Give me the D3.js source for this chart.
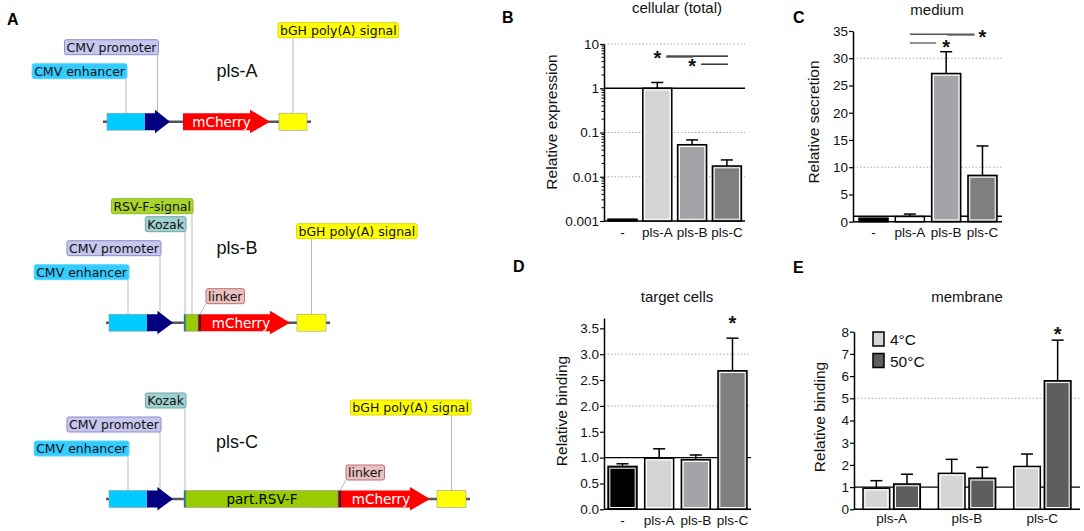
<!DOCTYPE html>
<html><head><meta charset="utf-8">
<script src="https://cdn.jsdelivr.net/npm/d3@7"></script>
<style>body{margin:0;background:#fff}svg{display:block}</style>
</head><body><svg id="c" width="1084" height="531"></svg>
<script>
// ---------------- DATA ----------------
const categories = ["-", "pls-A", "pls-B", "pls-C"];
// B: cellular (total) — relative expression (log)
const cellularValues = [0.0011, 1.0, 0.053, 0.0175];
const cellularErrors = [0.00006, 0.35, 0.015, 0.0065];
const cellularTicks = [0.001, 0.01, 0.1, 1, 10];
const cellularTickLabels = ["0.001", "0.01", "0.1", "1", "10"];
// C: medium — relative secretion
const mediumValues = [0.65, 0.95, 27.2, 8.5];
const mediumErrors = [0, 0.45, 4.0, 5.4];
const mediumTicks = [0, 5, 10, 15, 20, 25, 30, 35];
// D: target cells — relative binding
const targetValues = [0.83, 0.99, 0.96, 2.68];
const targetErrors = [0.05, 0.18, 0.09, 0.63];
const targetTicks = [0, 0.5, 1, 1.5, 2, 2.5, 3, 3.5];
// E: membrane — relative binding, two temperatures
const membraneGroups = ["pls-A", "pls-B", "pls-C"];
const membraneSeries = ["4°C", "50°C"];
const membrane4C = [0.95, 1.62, 1.93];
const membrane4CErr = [0.34, 0.63, 0.56];
const membrane50C = [1.14, 1.40, 5.79];
const membrane50CErr = [0.44, 0.49, 1.83];
const membraneTicks = [0, 1, 2, 3, 4, 5, 6, 7, 8];
// A: plasmid constructs (positions in arbitrary map units)
const constructNames = ["pls-A", "pls-B", "pls-C"];
const backbones = [[3, 211], [6, 230], [6, 370]];
const plsAFeatures = [["CMV enhancer", 7, 45], ["CMV promoter", 45, 70], ["mCherry", 83, 170], ["bGH poly(A) signal", 179, 207]];
const plsBFeatures = [["CMV enhancer", 9, 47], ["CMV promoter", 47, 73], ["Kozak", 84, 86], ["RSV-F-signal", 86, 98], ["linker", 98, 102], ["mCherry", 102, 190], ["bGH poly(A) signal", 197, 226]];
const plsCFeatures = [["CMV enhancer", 9, 47], ["CMV promoter", 47, 73], ["Kozak", 84, 86], ["part.RSV-F", 86, 238], ["linker", 238, 242], ["mCherry", 242, 330], ["bGH poly(A) signal", 337, 366]];

// ---------------- STYLE / LAYOUT ----------------
const svg = d3.select("#c");
const FONT = "'Liberation Sans', Arial, sans-serif";
const MAPFONT = "'DejaVu Sans', Verdana, sans-serif";

const featStyle = {
  "CMV enhancer": {fill: "#00ccff", shape: "box", lab: "#33ccff", labStroke: "#5cd6ff", level: -58, align: "end"},
  "CMV promoter": {fill: "#000080", shape: "arrow", lab: "#c6c6ee", labStroke: "#8c8cc8", level: -82, align: "end"},
  "Kozak": {fill: "#006a6a", shape: "box", lab: "#9fcfcf", labStroke: "#6fa8a8", level: -106, align: "end"},
  "RSV-F-signal": {fill: "#99cc00", shape: "box", lab: "#a8d42c", labStroke: "#8cb820", level: -124, align: "end"},
  "linker": {fill: "#8b0000", shape: "box", lab: "#ebc0c0", labStroke: "#b87272", level: -34, align: "linker"},
  "mCherry": {fill: "#ff0000", shape: "arrow", inline: "#ffffff"},
  "part.RSV-F": {fill: "#99cc00", shape: "box", inline: "#000000"},
  "bGH poly(A) signal": {fill: "#ffff00", shape: "box", lab: "#ffff00", labStroke: "#d8d800", level: -99, align: "start"}
};
const constructLayout = [{y: 121.7, titleDy: -45}, {y: 322.7, titleDy: -69}, {y: 499, titleDy: -51}];
const allFeatures = [plsAFeatures, plsBFeatures, plsCFeatures];
const LABEL_MAX_X = 471;

const mapX = d3.scaleLinear().domain([0, 400]).range([100, 500]);

// panel letters
[["A", 7, 25], ["B", 502, 23], ["C", 793, 23], ["D", 513, 272], ["E", 793, 273]].forEach(([t, x, y]) =>
  svg.append("text").attr("x", x).attr("y", y).attr("font-family", FONT).attr("font-weight", "bold")
    .attr("font-size", 16).text(t));

// ---------------- PANEL A ----------------
allFeatures.forEach((feats, ci) => {
  const L = constructLayout[ci];
  const g = svg.append("g");
  const by = L.y;
  g.append("line").attr("x1", mapX(backbones[ci][0])).attr("x2", mapX(backbones[ci][1]))
    .attr("y1", by).attr("y2", by).attr("stroke", "#555").attr("stroke-width", 2.5);
  g.append("text").attr("x", 237).attr("y", by + L.titleDy).attr("text-anchor", "middle")
    .attr("font-family", FONT).attr("font-size", 18).attr("fill", "#111").text(constructNames[ci]);

  const labels = g.append("g");
  const blocks = g.append("g");
  feats.forEach(([name, s, e]) => {
    const st = featStyle[name];
    const x0 = mapX(s), x1 = mapX(e);
    if (st.shape === "arrow") {
      const head = Math.min(20, (x1 - x0) * 0.6);
      const pts = [[x0, by - 8.5], [x1 - head, by - 8.5], [x1 - head, by - 12], [x1, by], [x1 - head, by + 11.5],
        [x1 - head, by + 8.5], [x0, by + 8.5]];
      blocks.append("path").attr("d", d3.line()(pts) + "Z").attr("fill", st.fill);
    } else {
      blocks.append("rect").attr("x", x0).attr("y", by - 8.5).attr("width", x1 - x0).attr("height", 17)
        .attr("fill", st.fill).attr("stroke", "#999").attr("stroke-width", 0.6);
    }
    if (st.inline) {
      const cx = st.shape === "arrow" ? (x0 + x1) / 2 - 5 : (x0 + x1) / 2;
      blocks.append("text").attr("x", cx).attr("y", by + 5).attr("text-anchor", "middle")
        .attr("font-family", MAPFONT).attr("font-size", 13.5).attr("fill", st.inline).text(name);
    }
    if (st.lab) {
      const mid = (x0 + x1) / 2;
      const top = by + st.level, h = 15;
      const t = labels.append("text").attr("y", top + 12).attr("font-family", MAPFONT).attr("font-size", 12.5)
        .attr("fill", "#111").text(name);
      const w = t.node().getComputedTextLength() + 4;
      let bx;
      if (st.align === "end") bx = mid + 1 - w;
      else if (st.align === "start") bx = Math.min(mid - 15, LABEL_MAX_X - w);
      else bx = mid + 6;
      t.attr("x", bx + 2);
      labels.insert("rect", "text").attr("x", bx).attr("y", top).attr("width", w).attr("height", h)
        .attr("rx", 2).attr("fill", st.lab).attr("stroke", st.labStroke).attr("stroke-width", 1);
      if (st.align === "linker") {
        labels.insert("line", "rect").attr("x1", mid).attr("y1", by - 8.5).attr("x2", bx).attr("y2", top + h)
          .attr("stroke", "#bbb").attr("stroke-width", 1);
      } else {
        labels.insert("line", "rect").attr("x1", mid).attr("x2", mid).attr("y1", by - 8.5).attr("y2", top + h)
          .attr("stroke", "#bbb").attr("stroke-width", 1);
      }
    }
  });
});

// ---------------- HELPERS ----------------
function styleAxis(ax) {
  ax.select(".domain").attr("stroke", "#000").attr("stroke-width", 1.5);
  ax.selectAll(".tick line").attr("stroke", "#000").attr("stroke-width", 1.2);
  ax.selectAll(".tick text").attr("font-family", FONT).attr("font-size", 13.5).attr("fill", "#111");
}
function hline(g, x1, x2, y, opts) {
  const l = g.append("line").attr("x1", x1).attr("x2", x2).attr("y1", y).attr("y2", y)
    .attr("stroke", opts.color || "#000").attr("stroke-width", opts.w || 1);
  if (opts.dash) l.attr("stroke-dasharray", opts.dash);
  return l;
}
function drawBar(g, x0, w, top, bot, fill, errTop) {
  if (errTop !== null) {
    const cx = x0 + w / 2;
    g.append("line").attr("x1", cx).attr("x2", cx).attr("y1", top).attr("y2", errTop).attr("stroke", "#000").attr("stroke-width", 1.5);
    g.append("line").attr("x1", cx - 6).attr("x2", cx + 6).attr("y1", errTop).attr("y2", errTop).attr("stroke", "#000").attr("stroke-width", 1.5);
  }
  g.append("rect").attr("x", x0).attr("y", top).attr("width", w).attr("height", Math.max(0.5, bot - top))
    .attr("fill", fill).attr("stroke", "#000").attr("stroke-width", 1.5);
  if (bot - top > 4)
    g.append("rect").attr("x", x0 + 1.8).attr("y", top + 1.8).attr("width", w - 3.6).attr("height", bot - top - 3.6)
      .attr("fill", "none").attr("stroke", "#fff").attr("stroke-width", 1);
}
function title(t, x, y) {
  svg.append("text").attr("x", x).attr("y", y).attr("text-anchor", "middle").attr("font-family", FONT)
    .attr("font-size", 15).attr("fill", "#111").text(t);
}
function ylabel(t, x, y) {
  svg.append("text").attr("transform", `translate(${x},${y}) rotate(-90)`).attr("text-anchor", "middle")
    .attr("font-family", FONT).attr("font-size", 15.5).attr("fill", "#111").text(t);
}
function star(g, x, y) {
  g.append("text").attr("x", x).attr("y", y + 8).attr("text-anchor", "middle").attr("font-family", FONT)
    .attr("font-weight", "bold").attr("font-size", 20).attr("fill", "#111").text("*");
}
function xlabels(g, x, cats, y) {
  cats.forEach(c => g.append("text").attr("x", x(c) + x.bandwidth() / 2).attr("y", y).attr("text-anchor", "middle")
    .attr("font-family", FONT).attr("font-size", 13.5).attr("fill", "#111").text(c));
}

const barFills = ["#000000", "#d4d4d4", "#a4a4a8", "#7f7f7f"];

// ---------------- PANEL B ----------------
{
  const g = svg.append("g");
  const x = d3.scaleBand().domain(categories).range([604, 745.4]).paddingInner(0.167).paddingOuter(0.115);
  const y = d3.scaleLog().domain([0.001, 10]).range([221, 44]);
  [0.01, 0.1, 10].forEach(v => hline(g, 604, 745, y(v), {color: "#aaa", dash: "1.5,2"}));
  hline(g, 604, 745, y(1), {w: 1.3});
  hline(g, 604, 745, y(0.001), {w: 1.5});
  categories.forEach((c, i) => drawBar(g, x(c), x.bandwidth(), y(cellularValues[i]), y(0.001),
    barFills[i], i === 0 ? null : y(cellularValues[i] + cellularErrors[i])));
  // minor ticks
  [0.001, 0.01, 0.1, 1].forEach(dec => d3.range(2, 10).forEach(k =>
    g.append("line").attr("x1", 601.5).attr("x2", 604).attr("y1", y(dec * k)).attr("y2", y(dec * k)).attr("stroke", "#000")));
  const ax = g.append("g").attr("transform", "translate(604,0)")
    .call(d3.axisLeft(y).tickValues(cellularTicks).tickFormat((d, i) => cellularTickLabels[i]).tickSize(4).tickSizeOuter(0).tickPadding(1));
  styleAxis(ax);
  xlabels(g, x, categories, 237);
  // significance
  const cx = c => x(c) + x.bandwidth() / 2;
  hline(g, cx("pls-A") + 9, cx("pls-C") + 1, y(5.3), {w: 1.2});
  hline(g, cx("pls-A") + 9, cx("pls-B") + 1, y(5.0), {w: 1.2, color: "#777"});
  hline(g, cx("pls-B") + 9, cx("pls-C") + 1, y(3.5), {w: 1.2});
  star(g, cx("pls-A"), y(5.0));
  star(g, cx("pls-B"), y(3.3));
  title("cellular (total)", 677, 13);
  ylabel("Relative expression", 557, 122);
}

// ---------------- PANEL C ----------------
{
  const g = svg.append("g");
  const x = d3.scaleBand().domain(categories).range([853, 1003]).paddingInner(0.2).paddingOuter(0.165);
  const y = d3.scaleLinear().domain([0, 35]).range([221.7, 31]);
  [10, 30].forEach(v => hline(g, 853, 1002, y(v), {color: "#aaa", dash: "1.5,2"}));
  hline(g, 853, 1002, y(1), {w: 1.3});
  hline(g, 853, 1002, y(0), {w: 1.5});
  const fills = ["#000000", "#ffffff", "#a4a4a8", "#7f7f7f"];
  categories.forEach((c, i) => drawBar(g, x(c), x.bandwidth(), y(mediumValues[i]), y(0),
    fills[i], mediumErrors[i] > 0 ? y(mediumValues[i] + mediumErrors[i]) : null));
  const ax = g.append("g").attr("transform", "translate(853,0)")
    .call(d3.axisLeft(y).tickValues(mediumTicks).tickSize(4).tickSizeOuter(0).tickPadding(1));
  styleAxis(ax);
  xlabels(g, x, categories, 237);
  const cx = c => x(c) + x.bandwidth() / 2;
  hline(g, cx("pls-A"), cx("pls-C") - 8, y(34.4), {w: 1.3, color: "#555"});
  hline(g, cx("pls-B") + 1, cx("pls-C") - 8, y(34.2), {w: 1.2, color: "#888"});
  hline(g, cx("pls-A"), cx("pls-B") - 10, y(32.8), {w: 1.3, color: "#555"});
  star(g, cx("pls-C"), y(34.0));
  star(g, cx("pls-B"), y(32.3));
  title("medium", 937, 15);
  ylabel("Relative secretion", 819, 122);
}

// ---------------- PANEL D ----------------
{
  const g = svg.append("g");
  const x = d3.scaleBand().domain(categories).range([604, 751]).paddingInner(0.21).paddingOuter(0.11);
  const y = d3.scaleLinear().domain([0, 3.7]).range([509.3, 318]);
  [2, 3].forEach(v => hline(g, 604, 751, y(v), {color: "#aaa", dash: "1.5,2"}));
  hline(g, 604, 751, y(1), {w: 1.3});
  hline(g, 604, 751, y(0), {w: 1.5});
  categories.forEach((c, i) => drawBar(g, x(c), x.bandwidth(), y(targetValues[i]), y(0),
    barFills[i], y(targetValues[i] + targetErrors[i])));
  const ax = g.append("g").attr("transform", "translate(604,0)")
    .call(d3.axisLeft(y).tickValues(targetTicks).tickFormat(d3.format(".1f")).tickSize(4).tickSizeOuter(0).tickPadding(1));
  styleAxis(ax);
  xlabels(g, x, categories, 525);
  star(g, x("pls-C") + x.bandwidth() / 2, y(3.62));
  title("target cells", 677, 302);
  ylabel("Relative binding", 567, 411);
}

// ---------------- PANEL E ----------------
{
  const g = svg.append("g");
  const x0 = d3.scaleBand().domain(membraneGroups).range([854, 1080]);
  const x1 = d3.scaleBand().domain(membraneSeries).range([x0.bandwidth() * 0.12, x0.bandwidth() * 0.88]).paddingInner(0.13);
  const y = d3.scaleLinear().domain([0, 8]).range([509.3, 331.7]);
  hline(g, 854, 1080, y(5), {color: "#aaa", dash: "1.5,2"});
  hline(g, 854, 1080, y(1), {w: 1.3});
  hline(g, 854, 1080, y(0), {w: 1.5});
  const seriesVals = [membrane4C, membrane50C], seriesErr = [membrane4CErr, membrane50CErr];
  const seriesFill = ["#d6d6d6", "#5e5e5e"];
  membraneGroups.forEach((grp, gi) => membraneSeries.forEach((s, si) => {
    const v = seriesVals[si][gi];
    drawBar(g, x0(grp) + x1(s), x1.bandwidth(), y(v), y(0), seriesFill[si], y(v + seriesErr[si][gi]));
  }));
  const ax = g.append("g").attr("transform", "translate(854,0)")
    .call(d3.axisLeft(y).tickValues(membraneTicks).tickSize(4).tickSizeOuter(0).tickPadding(1));
  styleAxis(ax);
  membraneGroups.forEach(grp => g.append("text").attr("x", x0(grp) + x0.bandwidth() / 2).attr("y", 523)
    .attr("text-anchor", "middle").attr("font-family", FONT).attr("font-size", 13.5).attr("fill", "#111").text(grp));
  star(g, x0("pls-C") + x1("50°C") + x1.bandwidth() / 2, y(7.95));
  // legend
  membraneSeries.forEach((s, i) => {
    g.append("rect").attr("x", 873).attr("y", 332 + i * 21.5).attr("width", 11).attr("height", 14)
      .attr("fill", seriesFill[i]).attr("stroke", "#000").attr("stroke-width", 1.5);
    g.append("text").attr("x", 890).attr("y", 345 + i * 21.5).attr("font-family", FONT).attr("font-size", 15.5)
      .attr("fill", "#111").text(s);
  });
  title("membrane", 967, 302);
  ylabel("Relative binding", 825, 417);
}
</script></body></html>
